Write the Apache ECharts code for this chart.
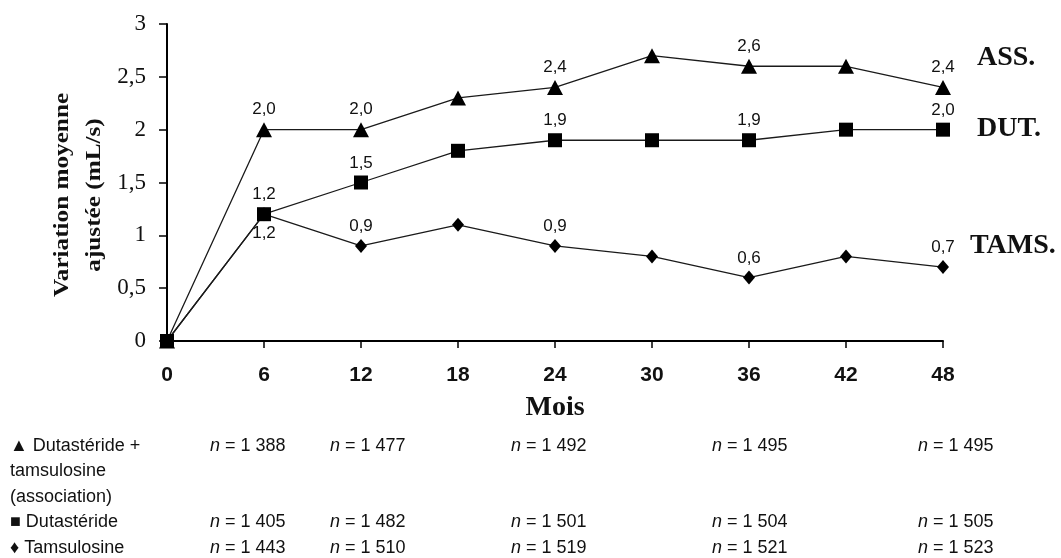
<!DOCTYPE html>
<html>
<head>
<meta charset="utf-8">
<script src="https://cdn.jsdelivr.net/npm/echarts@6/dist/echarts.min.js"></script>
<style>html,body{margin:0;padding:0;background:#fff;}#c{width:1061px;height:558px;}</style>
</head>
<body>
<div id="c"></div>
<script>
const months = [0, 6, 12, 18, 24, 30, 36, 42, 48];
const assValues = [0, 2.0, 2.0, 2.3, 2.4, 2.7, 2.6, 2.6, 2.4];
const dutValues = [0, 1.2, 1.5, 1.8, 1.9, 1.9, 1.9, 2.0, 2.0];
const tamsValues = [0, 1.2, 0.9, 1.1, 0.9, 0.8, 0.6, 0.8, 0.7];
const labeledMonths = [6, 12, 24, 36, 48];
const seriesNames = ['ASS.', 'DUT.', 'TAMS.'];
const yTitleLines = ['Variation moyenne', 'ajustée (mL/s)'];
const xTitle = 'Mois';
const tableRowLabels = ['▲ Dutastéride +', 'tamsulosine', '(association)', '■ Dutastéride', '♦ Tamsulosine'];
const nAss = ['1 388', '1 477', '1 492', '1 495', '1 495'];
const nDut = ['1 405', '1 482', '1 501', '1 504', '1 505'];
const nTams = ['1 443', '1 510', '1 519', '1 521', '1 523'];

const fmt = v => v.toFixed(1).replace('.', ',');
const sans = '"Liberation Sans", Arial, sans-serif';
const serif = '"Liberation Serif", "Times New Roman", serif';
const lineColor = '#1a1a1a';

function build(values, belowMonths) {
  return months.map((m, i) => {
    const show = labeledMonths.indexOf(m) >= 0;
    return {
      value: [m, values[i]],
      label: { show: show, position: (belowMonths.indexOf(m) >= 0) ? 'bottom' : 'top' }
    };
  });
}

const labelStyle = {
  formatter: p => fmt(p.value[1]),
  fontFamily: sans, fontSize: 17, color: '#111', distance: 4
};

function endLbl(dx, dy) {
  return {
    show: true, formatter: p => p.seriesName,
    fontFamily: serif, fontWeight: 'bold', fontSize: 28, color: '#111',
    offset: [dx, dy], distance: 0
  };
}

const chart = echarts.init(document.getElementById('c'), null, { renderer: 'canvas' });

// table rows
const rowY = [446, 471, 497, 522, 548];
const colX = [210, 330, 511, 712, 918];
const graphics = [];
tableRowLabels.forEach((t, i) => {
  graphics.push({ type: 'text', x: 10, y: rowY[i], style: { text: t, fontFamily: sans, fontSize: 18, fill: '#111', align: 'left', verticalAlign: 'middle' } });
});
[[nAss, rowY[0]], [nDut, rowY[3]], [nTams, rowY[4]]].forEach(([arr, y]) => {
  arr.forEach((n, j) => {
    graphics.push({ type: 'text', x: colX[j], y: y, style: {
      text: '{i|n} = ' + n, fontFamily: sans, fontSize: 18, fill: '#111', align: 'left', verticalAlign: 'middle',
      rich: { i: { fontStyle: 'italic', fontFamily: sans, fontSize: 18, fill: '#111' } }
    } });
  });
});
// y-axis title (two rotated lines)
yTitleLines.forEach((t, i) => {
  graphics.push({ type: 'text', x: 63 + i * 32, y: 195, rotation: Math.PI / 2, scaleX: 1.2,
    style: { text: t, fontFamily: serif, fontWeight: 'bold', fontSize: 21, fill: '#111', align: 'center', verticalAlign: 'middle' } });
});

chart.setOption({
  animation: false,
  backgroundColor: '#fff',
  grid: { left: 167, right: 118, top: 24, bottom: 217, containLabel: false, outerBoundsMode: 'none' },
  xAxis: {
    type: 'value', min: 0, max: 48, interval: 6,
    name: xTitle, nameLocation: 'middle', nameGap: 53,
    nameTextStyle: { fontFamily: serif, fontWeight: 'bold', fontSize: 28, color: '#111' },
    axisLine: { lineStyle: { color: '#000', width: 2 } },
    axisTick: { show: true, length: 7, lineStyle: { color: '#000', width: 1.5 } },
    axisLabel: { margin: 24, fontFamily: sans, fontWeight: 'bold', fontSize: 21, color: '#111' },
    splitLine: { show: false }
  },
  yAxis: {
    type: 'value', min: 0, max: 3, interval: 0.5,
    axisLine: { show: true, lineStyle: { color: '#000', width: 2 } },
    axisTick: { show: true, length: 8, lineStyle: { color: '#000', width: 1.5 } },
    axisLabel: { margin: 21, fontFamily: serif, fontSize: 23, color: '#111',
      formatter: v => String(v).replace('.', ',') },
    splitLine: { show: false }
  },
  graphic: graphics,
  series: [
    { name: seriesNames[2], type: 'line', data: build(tamsValues, [6]), z: 2,
      symbol: 'diamond', symbolSize: [12, 14], itemStyle: { color: '#000' },
      lineStyle: { color: lineColor, width: 1.3 }, label: labelStyle, endLabel: endLbl(27, -21) },
    { name: seriesNames[0], type: 'line', data: build(assValues, []), z: 3,
      symbol: 'triangle', symbolSize: [16, 15], itemStyle: { color: '#000' },
      lineStyle: { color: lineColor, width: 1.3 }, label: labelStyle, endLabel: endLbl(34, -30) },
    { name: seriesNames[1], type: 'line', data: build(dutValues, []), z: 4,
      symbol: 'rect', symbolSize: 14, itemStyle: { color: '#000' },
      lineStyle: { color: lineColor, width: 1.3 }, label: labelStyle, endLabel: endLbl(34, -1) }
  ]
});
</script>
</body>
</html>
